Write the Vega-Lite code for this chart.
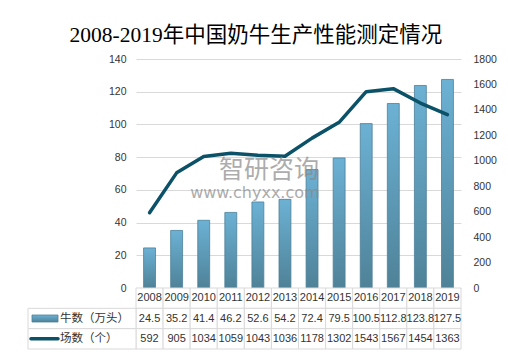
{
  "$schema": "https://vega.github.io/schema/vega-lite/v6.json",
  "padding": {"left": 27, "top": 24, "right": 5, "bottom": 5},
  "autosize": {"type": "pad"},
  "background": "white",
  "title": {
    "text": "2008-2019年中国奶牛生产性能测定情况",
    "font": "Liberation Serif, Noto Sans CJK SC",
    "fontSize": 21.5,
    "fontWeight": "normal",
    "color": "#000000",
    "anchor": "middle",
    "offset": 8,
    "dx": -6
  },
  "datasets": {
    "d": [
      {"年份": "2008", "牛数（万头）": 24.5, "场数（个）": 592},
      {"年份": "2009", "牛数（万头）": 35.2, "场数（个）": 905},
      {"年份": "2010", "牛数（万头）": 41.4, "场数（个）": 1034},
      {"年份": "2011", "牛数（万头）": 46.2, "场数（个）": 1059},
      {"年份": "2012", "牛数（万头）": 52.6, "场数（个）": 1043},
      {"年份": "2013", "牛数（万头）": 54.2, "场数（个）": 1036},
      {"年份": "2014", "牛数（万头）": 72.4, "场数（个）": 1178},
      {"年份": "2015", "牛数（万头）": 79.5, "场数（个）": 1302},
      {"年份": "2016", "牛数（万头）": 100.5, "场数（个）": 1543},
      {"年份": "2017", "牛数（万头）": 112.8, "场数（个）": 1567},
      {"年份": "2018", "牛数（万头）": 123.8, "场数（个）": 1454},
      {"年份": "2019", "牛数（万头）": 127.5, "场数（个）": 1363}
    ],
    "s": [
      {"s": "牛数（万头）"},
      {"s": "场数（个）"}
    ],
    "wm": [
      {"t": "智研咨询", "u": "www.chyxx.com"}
    ]
  },
  "columns": 1,
  "bounds": "flush",
  "spacing": 0,
  "resolve": {"scale": {"x": "independent", "y": "independent"}},
  "concat": [
    {
      "width": 325,
      "height": 229,
      "resolve": {"scale": {"y": "independent"}},
      "layer": [
        {
          "data": {"name": "d"},
          "mark": {
            "type": "bar",
            "color": {
              "gradient": "linear", "x1": 0, "y1": 0, "x2": 0, "y2": 1,
              "stops": [
                {"offset": 0, "color": "#6cb1d4"},
                {"offset": 1, "color": "#4f8298"}
              ]
            },
            "stroke": "#4d8098",
            "strokeWidth": 0.8
          },
          "encoding": {
            "x": {
              "field": "年份", "type": "nominal",
              "scale": {"paddingInner": 0.56, "paddingOuter": 0.28},
              "axis": null
            },
            "y": {
              "field": "牛数（万头）", "type": "quantitative",
              "scale": {"domain": [0, 140]},
              "axis": {
                "values": [0, 20, 40, 60, 80, 100, 120, 140],
                "title": null,
                "grid": true,
                "gridColor": "#d9d9d9",
                "domain": false,
                "ticks": false,
                "labelPadding": 10,
                "minExtent": 108,
                "labelFont": "Liberation Sans",
                "labelFontSize": 10.5,
                "labelColor": "#333333"
              }
            }
          }
        },
        {
          "data": {"name": "d"},
          "mark": {"type": "line", "color": "#0b5167", "strokeWidth": 3.5, "strokeCap": "round", "strokeJoin": "round"},
          "encoding": {
            "x": {"field": "年份", "type": "nominal", "axis": null},
            "y": {
              "field": "场数（个）", "type": "quantitative",
              "scale": {"domain": [0, 1800]},
              "axis": {
                "orient": "right",
                "values": [0, 200, 400, 600, 800, 1000, 1200, 1400, 1600, 1800],
                "format": "d",
                "title": null,
                "grid": false,
                "domain": false,
                "ticks": false,
                "labelPadding": 12,
                "labelFont": "Liberation Sans",
                "labelFontSize": 10.5,
                "labelColor": "#333333"
              }
            }
          }
        },
        {
          "data": {"name": "wm"},
          "layer": [
            {
              "mark": {"type": "text", "font": "Noto Sans CJK SC", "fontSize": 25, "color": "#8a8a8a", "opacity": 0.7, "dx": 11},
              "encoding": {
                "x": {"datum": "2012", "type": "nominal", "axis": null},
                "y": {"datum": 72, "type": "quantitative", "scale": {"domain": [0, 140]}, "axis": null},
                "text": {"field": "t"}
              }
            },
            {
              "mark": {"type": "text", "font": "DejaVu Sans", "fontSize": 16, "color": "#8a8a8a", "opacity": 0.7, "dx": -3},
              "encoding": {
                "x": {"datum": "2012", "type": "nominal", "axis": null},
                "y": {"datum": 58, "type": "quantitative", "scale": {"domain": [0, 140]}, "axis": null},
                "text": {"field": "u"}
              }
            }
          ]
        }
      ]
    },
    {
      "width": 325,
      "height": 61,
      "layer": [
        {
          "data": {"name": "d"},
          "transform": [{"fold": ["年份", "牛数（万头）", "场数（个）"], "as": ["row", "val"]}],
          "mark": {"type": "rect", "fill": "white", "stroke": "#d9d9d9", "strokeWidth": 1},
          "encoding": {
            "x": {"field": "年份", "type": "nominal", "scale": {"paddingInner": 0, "paddingOuter": 0}, "axis": null},
            "y": {"field": "row", "type": "nominal", "scale": {"domain": ["年份", "牛数（万头）", "场数（个）"], "paddingInner": 0, "paddingOuter": 0}, "axis": null}
          }
        },
        {
          "data": {"name": "d"},
          "transform": [{"fold": ["年份", "牛数（万头）", "场数（个）"], "as": ["row", "val"]}],
          "mark": {"type": "text", "font": "Liberation Sans", "fontSize": 11, "color": "#333333"},
          "encoding": {
            "x": {"field": "年份", "type": "nominal", "axis": null},
            "y": {"field": "row", "type": "nominal", "axis": null},
            "text": {"field": "val", "type": "nominal"}
          }
        },
        {
          "data": {"name": "s"},
          "mark": {"type": "rect", "fill": "white", "stroke": "#d9d9d9", "strokeWidth": 1},
          "encoding": {
            "y": {"field": "s", "type": "nominal", "axis": null},
            "x": {"value": -108},
            "x2": {"value": 0}
          }
        },
        {
          "data": {"name": "s"},
          "transform": [{"filter": "datum.s === '牛数（万头）'"}],
          "mark": {
            "type": "bar",
            "height": 7,
            "color": {
              "gradient": "linear", "x1": 0, "y1": 0, "x2": 0, "y2": 1,
              "stops": [
                {"offset": 0, "color": "#6cb1d4"},
                {"offset": 1, "color": "#4f8298"}
              ]
            },
            "stroke": "#4d8098",
            "strokeWidth": 0.8
          },
          "encoding": {
            "y": {"field": "s", "type": "nominal", "axis": null},
            "x": {"value": -104},
            "x2": {"value": -78}
          }
        },
        {
          "data": {"name": "s"},
          "transform": [{"filter": "datum.s === '场数（个）'"}],
          "mark": {"type": "rule", "color": "#0b5167", "strokeWidth": 3.5, "strokeCap": "round"},
          "encoding": {
            "y": {"field": "s", "type": "nominal", "axis": null},
            "x": {"value": -105},
            "x2": {"value": -78}
          }
        },
        {
          "data": {"name": "s"},
          "mark": {"type": "text", "align": "left", "font": "Noto Sans CJK SC", "fontSize": 11.5, "color": "#333333"},
          "encoding": {
            "y": {"field": "s", "type": "nominal", "axis": null},
            "x": {"value": -76},
            "text": {"field": "s"}
          }
        }
      ]
    }
  ],
  "config": {
    "view": {"stroke": null},
    "font": "Liberation Sans"
  }
}
